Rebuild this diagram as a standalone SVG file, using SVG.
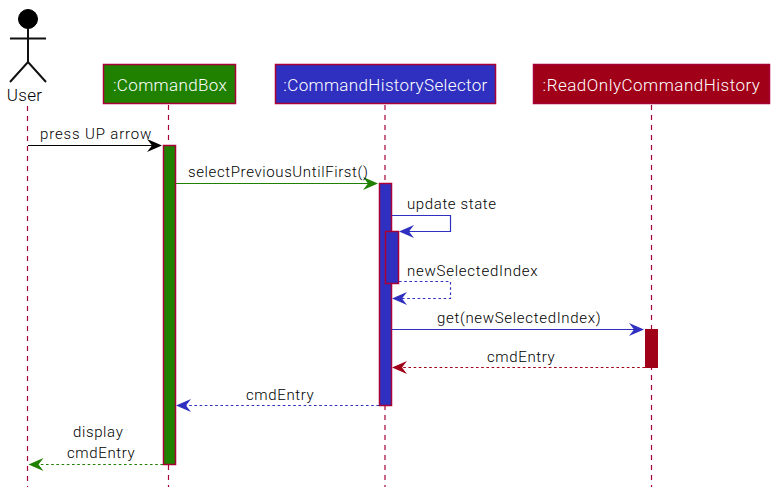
<svg xmlns="http://www.w3.org/2000/svg" width="775" height="494" viewBox="0 0 775 494">
<style>
text{font-family:"Roboto","Liberation Sans",sans-serif;font-weight:300;font-size:15px;fill:#000;letter-spacing:.62px}
.h{font-size:17px;fill:#fff;text-anchor:middle;letter-spacing:.35px}
.life{stroke:#a80036;stroke-width:1.2;stroke-dasharray:5 5;fill:none}
.box{stroke:#a80036;stroke-width:1.5}
.bar{stroke:#a80036;stroke-width:1.5}
.g{fill:#208000}.b{fill:#3030c0}.r{fill:#a00018}
.m{fill:none;stroke-width:1.2}
.d{stroke-dasharray:2.6 2.6}
</style>
<defs>
<path id="ar" d="M-15-6.500L0 0L-15 6.500L-10 0Z"/>
</defs>
<rect width="775" height="494" fill="#fff"/>
<g id="lifelines">
<line class="life" x1="27.5" y1="106" x2="27.5" y2="487"/>
<line class="life" x1="168.500" y1="105" x2="168.500" y2="487"/>
<line class="life" x1="385" y1="105" x2="385" y2="487"/>
<line class="life" x1="651.500" y1="105" x2="651.500" y2="487"/>
</g>
<g id="user">
<circle cx="28" cy="19" r="9.500" fill="#000" stroke="#000"/>
<path d="M28 28.500V62M10 38.500H46M10 82L28 62L46 82" fill="none" stroke="#111" stroke-width="2"/>
<text x="24.500" y="101" style="font-size:17px;text-anchor:middle;letter-spacing:.3px">User</text>
</g>
<g id="commandbox">
<rect class="box g" x="103.500" y="64.500" width="132" height="39"/>
<text class="h" x="170" y="91">:CommandBox</text>
</g>
<g id="selector">
<rect class="box b" x="275.500" y="64.500" width="220" height="39"/>
<text class="h" x="385.500" y="91">:CommandHistorySelector</text>
</g>
<g id="history">
<rect class="box r" x="533.500" y="64.500" width="236" height="39"/>
<text class="h" x="651.500" y="91" style="letter-spacing:.5px">:ReadOnlyCommandHistory</text>
</g>
<g id="activations">
<rect class="bar g" x="163.500" y="145.500" width="12" height="319"/>
<rect class="bar b" x="379.500" y="183.500" width="12" height="222"/>
<rect class="bar b" x="385.500" y="231.500" width="13" height="52"/>
<rect class="r" x="645" y="329" width="13" height="39"/>
</g>
<g id="connectors">
<line class="m" x1="28" y1="145.500" x2="155" y2="145.500" stroke="#000"/>
<use href="#ar" x="162" y="145.500" fill="#000"/>
<line class="m" x1="176" y1="183.500" x2="371" y2="183.500" stroke="#208000"/>
<use href="#ar" x="378" y="183.500" fill="#208000"/>
<path class="m" d="M392 215.500H450.500V231.500H407" stroke="#3030c0"/>
<use href="#ar" transform="translate(399,231.500) rotate(180)" fill="#3030c0"/>
<path class="m d" d="M399 281.500H450.500V298.500H399" stroke="#3030c0"/>
<use href="#ar" transform="translate(392,298.500) rotate(180)" fill="#3030c0"/>
<line class="m" x1="392" y1="329.500" x2="637" y2="329.500" stroke="#3030c0"/>
<use href="#ar" x="644" y="329.500" fill="#3030c0"/>
<line class="m d" x1="645" y1="367.500" x2="400" y2="367.500" stroke="#a00018"/>
<use href="#ar" transform="translate(392,367.500) rotate(180)" fill="#a00018"/>
<line class="m d" x1="379" y1="405.500" x2="184" y2="405.500" stroke="#3030c0"/>
<use href="#ar" transform="translate(176,405.500) rotate(180)" fill="#3030c0"/>
<line class="m d" x1="163" y1="464.500" x2="37" y2="464.500" stroke="#208000"/>
<use href="#ar" transform="translate(28.500,464.500) rotate(180)" fill="#208000"/>
</g>
<g id="labels">
<text x="40" y="139" style="letter-spacing:.85px">press UP arrow</text>
<text x="188" y="177">selectPreviousUntilFirst()</text>
<text x="407" y="209">update state</text>
<text x="407" y="276" style="letter-spacing:.75px">newSelectedIndex</text>
<text x="437" y="323" style="letter-spacing:.68px">get(newSelectedIndex)</text>
<text x="487" y="362">cmdEntry</text>
<text x="246" y="400">cmdEntry</text>
<text x="73" y="437">display</text>
<text x="67" y="458">cmdEntry</text>
</g>
</svg>
